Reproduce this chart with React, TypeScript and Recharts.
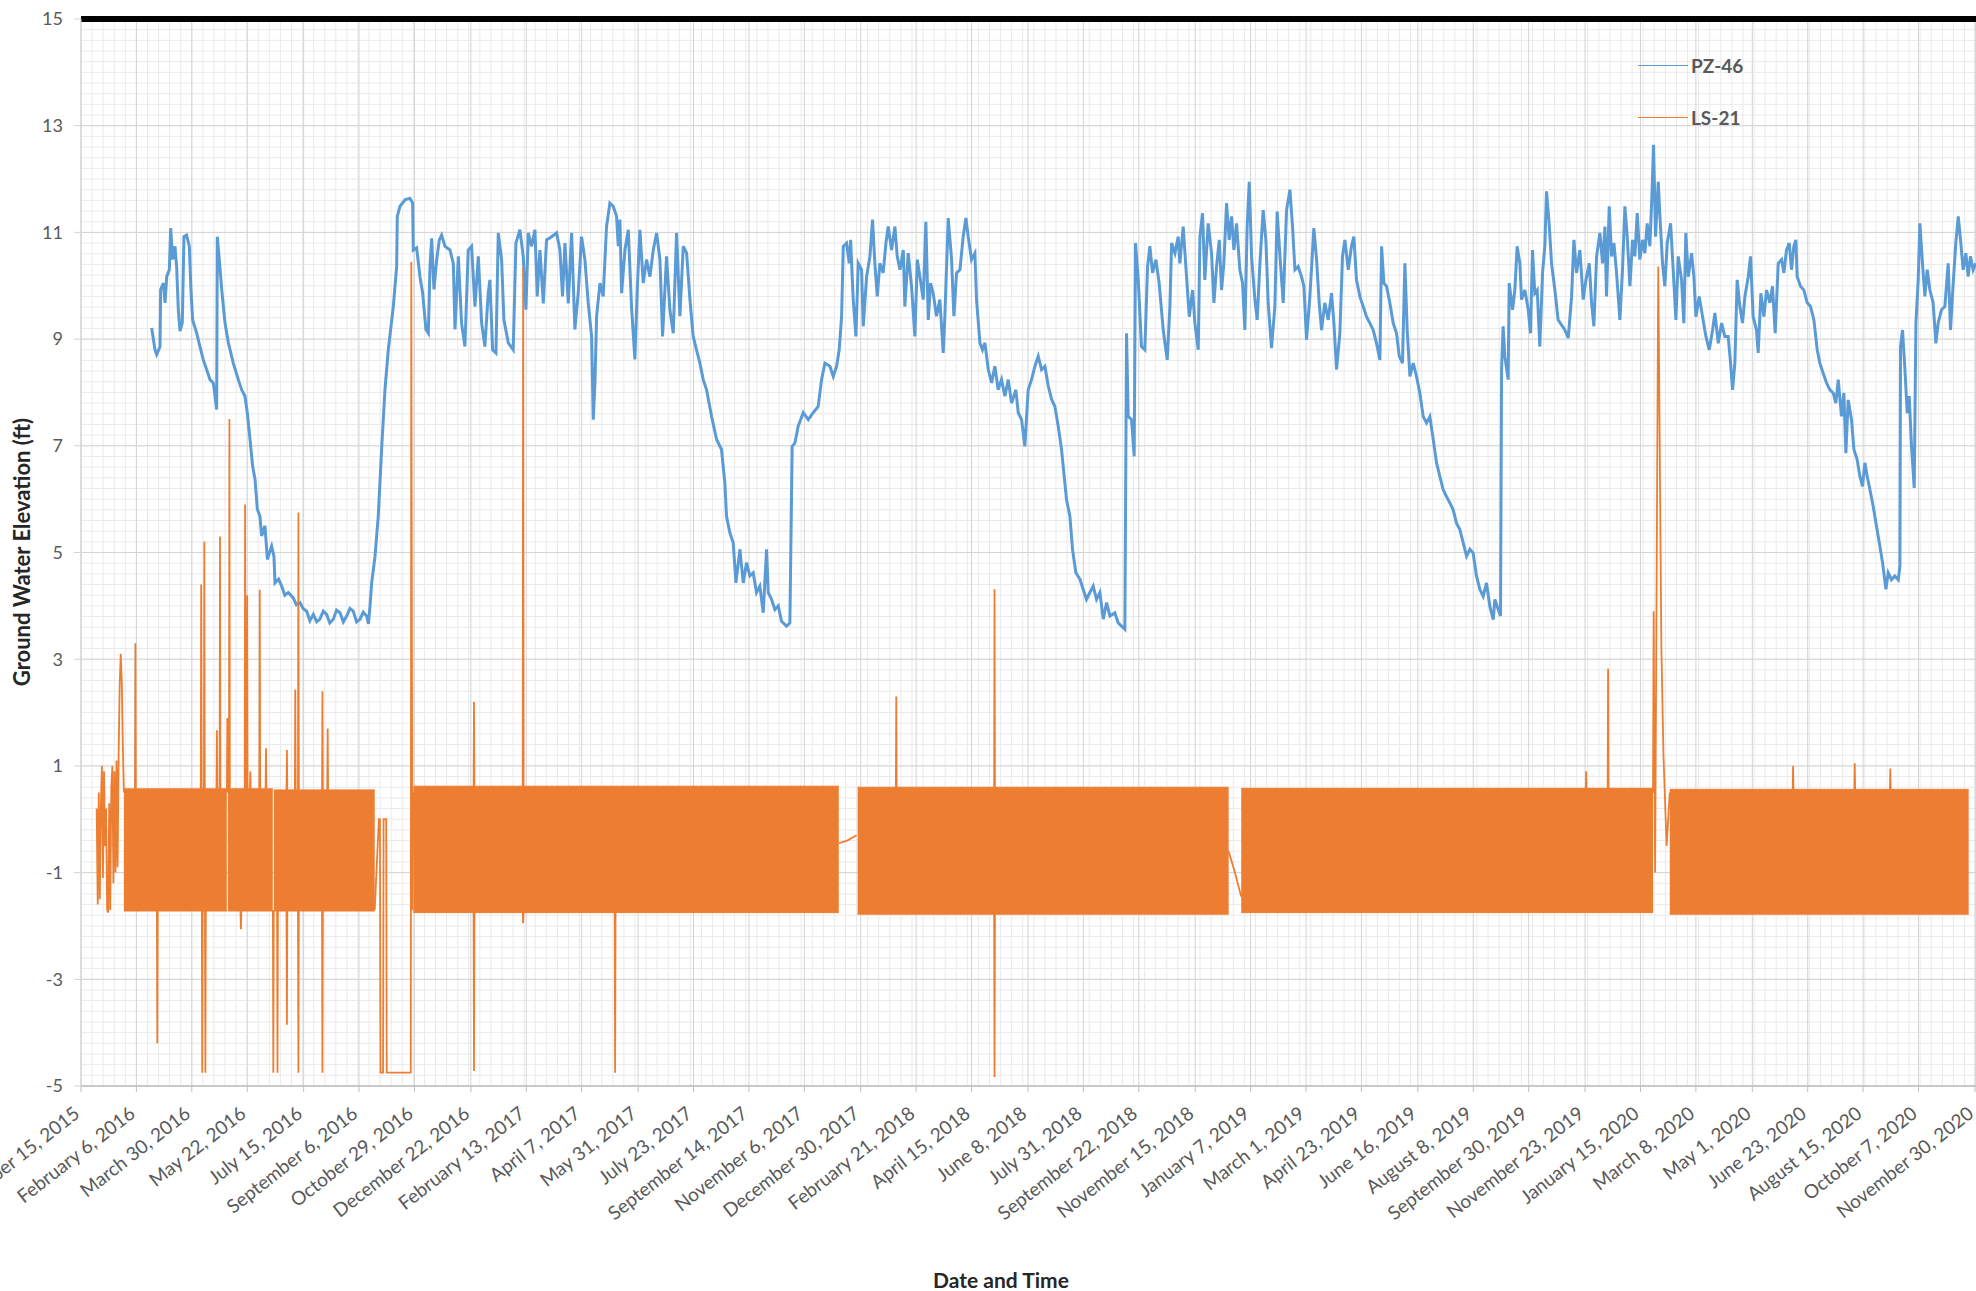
import React from 'react';
import { ComposedChart, Line, Area, XAxis, YAxis, CartesianGrid, ReferenceLine, Legend } from 'recharts';

const FONT = "Lato, 'Open Sans', 'DejaVu Sans', sans-serif";
const BLUE = '#5B9BD5';
const ORANGE = '#ED7D31';

// x values are days since December 15, 2015
const X_MAX = 1813;
const Y_MIN = -5;
const Y_MAX = 15;

const dateLabels = [
  'December 15, 2015', 'February 6, 2016', 'March 30, 2016', 'May 22, 2016', 'July 15, 2016',
  'September 6, 2016', 'October 29, 2016', 'December 22, 2016', 'February 13, 2017', 'April 7, 2017',
  'May 31, 2017', 'July 23, 2017', 'September 14, 2017', 'November 6, 2017', 'December 30, 2017',
  'February 21, 2018', 'April 15, 2018', 'June 8, 2018', 'July 31, 2018', 'September 22, 2018',
  'November 15, 2018', 'January 7, 2019', 'March 1, 2019', 'April 23, 2019', 'June 16, 2019',
  'August 8, 2019', 'September 30, 2019', 'November 23, 2019', 'January 15, 2020', 'March 8, 2020',
  'May 1, 2020', 'June 23, 2020', 'August 15, 2020', 'October 7, 2020', 'November 30, 2020',
];
const yTicks = [-5, -3, -1, 1, 3, 5, 7, 9, 11, 13, 15];

const legendNames = ['PZ-46', 'LS-21'];
const legendColors = [BLUE, ORANGE];

// PZ-46 readings [day, ft]
const pz46: [number, number][] = [
  [67.6, 9.21], [70.8, 8.8], [72.4, 8.71], [75.6, 8.86], [76.2, 9.93], [78.8, 10.05], [80.4, 9.68], [82, 10.17],
  [84.5, 10.3], [85.8, 11.08], [87.7, 10.49], [89.9, 10.74], [91.5, 10.36], [93.1, 9.55], [94.7, 9.15], [96.9, 9.3],
  [98.5, 10.92], [101, 10.95], [103.6, 10.74], [105.2, 9.93], [106.8, 9.36], [110.7, 9.11], [113.8, 8.86], [117, 8.61],
  [120.2, 8.43], [123.4, 8.24], [126.6, 8.18], [128.2, 7.93], [129.8, 7.68], [130.4, 10.92], [132.3, 10.49], [134.6, 9.93],
  [137.8, 9.3], [141, 8.93], [145.7, 8.55], [150.5, 8.24], [153.7, 8.05], [156.9, 7.93], [159.1, 7.62], [161.7, 7.12],
  [164.2, 6.62], [166.5, 6.37], [168.7, 5.81], [171.2, 5.68], [172.8, 5.31], [176, 5.5], [178.3, 4.87], [182.4, 5.12],
  [184.6, 4.93], [185.6, 4.43], [189, 4.5], [192, 4.37], [195, 4.2], [198.3, 4.25], [203.1, 4.15], [206, 4.02], [209.5, 4.06],
  [212.5, 3.95], [215.9, 3.9], [219, 3.72], [222.3, 3.84], [225.5, 3.7], [228.6, 3.75], [231.8, 3.9], [235, 3.84],
  [238, 3.68], [241.4, 3.75], [244.5, 3.92], [247.8, 3.87], [251, 3.7], [254.2, 3.81], [257.3, 3.95], [260.5, 3.9],
  [263.7, 3.7], [266.9, 3.75], [270, 3.88], [273.3, 3.81], [275, 3.66], [276.5, 4.0], [278.1, 4.43], [281.3, 4.93],
  [284.4, 5.68], [287.6, 6.93], [290.8, 8.05], [294, 8.8], [298.8, 9.61], [302, 10.36], [302.6, 11.3], [305.2, 11.49],
  [310, 11.61], [314.7, 11.64], [317.3, 11.55], [317.9, 10.67], [321.1, 10.71], [324.3, 10.17], [326.9, 9.86], [330, 9.18],
  [332.3, 9.11], [333.9, 10.36], [335.5, 10.89], [337.7, 9.93], [340.3, 10.49], [342.8, 10.86], [345, 10.95], [348.2, 10.74],
  [353, 10.67], [356.2, 10.42], [357.8, 9.18], [361, 10.55],
  [364.1, 9.3], [367.3, 8.86], [370.5, 10.67], [373.7, 10.74], [376.9, 9.61], [380.1, 10.55], [383.3, 9.3], [386.4, 8.86],
  [389.6, 9.86], [391.2, 10.11], [393.8, 8.8], [397, 8.74], [399.2, 10.99], [402.4, 10.49], [404.6, 9.36], [408.8, 8.93],
  [413.5, 8.8], [416.1, 10.8], [419.9, 11.05], [423.1, 10.55], [425.7, 9.55], [427.9, 10.99], [431.1, 10.74], [434.3, 11.05],
  [436.5, 9.8], [439.1, 10.67], [442.3, 9.67], [445.4, 10.86], [450.2, 10.92], [455, 10.99], [458.2, 10.67], [460.7, 9.8],
  [463, 10.8], [466.2, 9.67], [469.4, 10.99], [472.5, 9.18], [475.7, 9.86], [478.9, 10.92], [482.1, 10.49], [485.3, 9.67],
  [488.5, 9.05], [490.1, 7.49], [491.7, 8.18], [493.3, 9.43], [496.5, 10.05], [499.6, 9.8], [502.8, 11.11], [506, 11.55],
  [509.2, 11.49], [512.4, 11.3], [514, 10.74], [515.6, 11.24], [517.2, 9.86], [520.4, 10.67], [523.6, 11.05], [526.7, 9.61],
  [529.9, 8.62], [532.2, 9.93], [534.7, 11.05], [537.9, 10.05], [541.1, 10.49], [544.3, 10.17], [547.5, 10.67], [550.7, 10.99],
  [553.9, 10.49], [556.4, 9.05], [560.2, 10.55], [563.4, 9.55], [566.6, 9.11], [569.8, 10.99], [573, 9.43], [576.2, 10.74],
  [579.4, 10.61], [582.6, 9.74], [585.7, 9.05], [588.9, 8.8], [592.1, 8.55], [595.3, 8.24], [598.5, 8.05], [603.3, 7.55],
  [608.1, 7.12], [612.8, 6.93], [616, 6.3], [617.6, 5.68], [620.8, 5.37], [624, 5.18], [626.6, 4.43], [630.4, 5.06],
  [633.6, 4.43], [636.7, 4.81], [639.9, 4.56], [643.1, 4.62], [646.3, 4.25], [649.5, 4.37], [652.7, 3.87], [655.9, 5.06],
  [657.5, 4.25], [660.7, 4.12], [663.9, 3.93], [667.1, 4.0], [670.2, 3.71], [675, 3.62], [678.2, 3.68], [680.4, 6.99],
  [683, 7.05], [686.2, 7.37], [691, 7.62], [695.8, 7.49], [700.5, 7.62], [705.3, 7.74],
  [708.5, 8.24], [711.7, 8.55], [716.5, 8.49], [719.7, 8.3], [722.9, 8.49], [725.4, 8.8], [727.7, 9.43], [729.3, 10.74],
  [732.4, 10.8], [735, 10.42], [736.3, 10.86], [738.8, 9.74], [741.4, 9.05], [743.6, 10.42], [746.8, 10.3], [748.4, 9.24],
  [751.6, 10.17], [754.8, 10.55], [757.3, 11.24], [759.5, 10.42], [761.8, 9.8], [764.3, 10.42], [767.5, 10.24], [770.1, 10.8],
  [772.3, 11.11], [775.5, 10.67], [778.7, 11.11], [780.9, 10.55], [783.5, 10.3], [786.7, 10.67], [788.2, 9.61], [791.4, 10.61],
  [794.6, 9.99], [797.8, 9.05], [800.1, 10.49], [802.6, 10.17], [805.8, 9.74], [808.3, 11.2], [810.6, 9.36], [812.8, 10.05],
  [815.3, 9.86], [818.5, 9.43], [821.7, 9.74], [824.9, 8.74], [826.5, 9.43], [829.7, 11.27], [832.9, 10.49], [835.1, 9.43],
  [837.7, 10.24], [840.9, 10.3], [844, 10.92], [846.6, 11.27], [848.8, 10.92], [852, 10.49], [855.2, 10.61], [856.8, 9.74],
  [860, 8.93], [862.5, 8.8], [864.8, 8.93], [868, 8.43], [871.2, 8.18], [874.3, 8.49], [877.5, 8.05], [880.7, 8.24],
  [883.9, 7.93], [887.1, 8.24], [890.3, 7.8], [894.4, 8.05], [896.7, 7.62], [899.9, 7.49], [903, 6.99], [906.2, 8.05],
  [909.4, 8.24], [912.6, 8.49], [915.8, 8.68], [919, 8.43], [922.2, 8.49], [925.4, 8.12], [928.6, 7.87], [931.7, 7.74],
  [934.9, 7.37], [938.1, 6.93], [941.3, 6.3], [942.9, 5.99], [946.1, 5.68], [948.6, 5.06], [951.8, 4.62], [955.7, 4.5],
  [958.8, 4.31], [962, 4.12], [965.2, 4.25], [968.4, 4.37], [971.6, 4.12], [974.8, 4.25], [978, 3.75], [981.2, 4.06],
  [984.4, 3.81], [989.1, 3.87], [992.3, 3.68], [995.5, 3.62], [998.7, 3.56], [1000.3, 9.11], [1001.9, 7.55], [1005.1, 7.49],
  [1007.6, 6.8], [1008.9, 10.8], [1011.5, 10.11], [1014.6, 8.86], [1017.8, 8.8], [1020.4, 10.36], [1022.6, 10.74], [1025.2, 10.24],
  [1028.4, 10.49], [1031.5, 10.05],
  [1035.4, 9.17], [1039.2, 8.61], [1041.8, 9.61], [1043.4, 10.8], [1046.6, 10.61], [1049.7, 10.92], [1051.3, 10.42], [1054.5, 11.11],
  [1057.7, 10.17], [1060.3, 9.42], [1063.5, 9.92], [1065.7, 9.3], [1068.9, 8.8], [1070.5, 10.92], [1073, 11.36], [1075.2, 10.11],
  [1078.4, 11.17], [1081.6, 10.61], [1083.9, 9.68], [1086.4, 10.36], [1089, 10.86], [1091.2, 9.92], [1093.4, 10.42], [1096, 11.55],
  [1098.5, 10.86], [1100.8, 11.3], [1103, 10.67], [1105.5, 11.17], [1108.7, 10.3], [1111.3, 10.05], [1113.5, 9.17], [1115.7, 11.11],
  [1117.7, 11.95], [1119.9, 10.55], [1123.1, 9.74], [1125.3, 9.36], [1127.9, 10.42], [1131, 11.42], [1133.6, 10.86], [1135.8, 9.68],
  [1139, 8.83], [1142.2, 9.61], [1144.4, 11.39], [1146.9, 10.61], [1150.2, 9.68], [1153.4, 11.42], [1156.6, 11.8], [1159.1, 11.11],
  [1161.4, 10.3], [1164.5, 10.36], [1167.7, 10.17], [1170, 9.99], [1172.5, 8.99], [1175.7, 9.8], [1179.5, 11.08], [1182.1, 10.49],
  [1184.6, 9.68], [1186.9, 9.17], [1190, 9.68], [1193.2, 9.36], [1196.4, 9.86], [1198.7, 9.3], [1201.2, 8.43], [1204.4, 9.11],
  [1206.9, 10.55], [1209.2, 10.86], [1212.4, 10.3], [1215.5, 10.74], [1217.8, 10.92], [1220.3, 10.11], [1223.5, 9.8], [1226.7, 9.61],
  [1229.9, 9.42], [1233.1, 9.3], [1236.3, 9.17], [1239.5, 8.92], [1242.7, 8.61], [1244.3, 10.74], [1246.5, 10.05], [1249, 9.99],
  [1252.2, 9.68], [1255.4, 9.3], [1258.6, 9.11], [1261.2, 8.68], [1264.3, 8.55], [1266.6, 10.42], [1268.8, 9.17], [1271.4, 8.3],
  [1274.6, 8.55], [1277.7, 8.3], [1280.9, 7.99], [1284.1, 7.55], [1287.3, 7.43], [1290.5, 7.55], [1293.7, 7.12], [1296.9, 6.68],
  [1300, 6.43], [1303.2, 6.18], [1306.4, 6.05], [1309.6, 5.93], [1312.8, 5.8], [1316, 5.55], [1319.2, 5.43], [1322.4, 5.18],
  [1325.6, 4.93], [1328.8, 5.06], [1331.9, 4.99], [1335.1, 4.56], [1338.3, 4.31], [1341.5, 4.18], [1344.7, 4.43], [1347.9, 3.99],
  [1351.1, 3.74], [1352.7, 4.12], [1355.9, 3.93], [1358.1, 3.81], [1359.1, 8.43], [1360.6, 9.24], [1362.2, 8.68], [1365.4, 8.24],
  [1366.4, 10.05], [1369.6, 9.55], [1371.8, 9.92], [1374, 10.74], [1376.6, 10.42], [1378.2, 9.74], [1381.4, 9.92], [1384.6, 9.55],
  [1386.8, 9.11], [1388.7, 10.67], [1390.9, 9.86], [1393.2, 9.92], [1395.7, 8.86], [1398.3, 10.24], [1400.5, 10.74], [1402.1, 11.77],
  [1404.6, 11.17], [1406.9, 10.42], [1410.1, 9.92], [1413.2, 9.36],
  [1419.7, 9.17], [1422.9, 9.02], [1426.1, 9.8], [1428.3, 10.86], [1430.8, 10.24], [1434, 10.67], [1437.2, 9.74], [1439.8, 10.11],
  [1443, 10.42], [1445.2, 9.68], [1447.4, 9.24], [1450, 10.55], [1453.2, 10.99], [1455.7, 10.42], [1458, 11.11], [1459.5, 9.8],
  [1462.1, 11.49], [1464.3, 10.55], [1466.6, 10.8], [1469.1, 10.24], [1472.3, 9.36], [1474.8, 10.3], [1477.1, 11.49], [1479.3, 10.92],
  [1481.9, 9.99], [1484.4, 10.86], [1486.6, 10.55], [1488.9, 11.36], [1491.4, 10.49], [1494, 10.86], [1496.2, 10.61], [1498.4, 11.17],
  [1501, 10.74], [1502.9, 11.67], [1504.5, 12.64], [1506.4, 10.92], [1509, 11.95], [1510.6, 11.3], [1513.1, 10.42], [1515.3, 9.99],
  [1517.6, 10.8], [1520.8, 11.17], [1523.3, 10.3], [1525.9, 9.36], [1528.1, 10.55], [1531.3, 10.11], [1533.5, 9.3], [1535.4, 10.99],
  [1537.7, 10.17], [1540.9, 10.61], [1543.1, 10.17], [1545, 9.42], [1548.2, 9.8], [1551.4, 9.42], [1554.6, 9.05], [1557.8, 8.8],
  [1561, 9.17], [1563.2, 9.49], [1566.4, 8.92], [1569.6, 9.3], [1572.7, 9.05], [1575.9, 9.05], [1578.2, 8.55], [1580.1, 8.05],
  [1582.3, 8.55], [1584.5, 10.11], [1587.1, 9.61], [1589.6, 9.3], [1591.9, 9.8], [1595.1, 10.17], [1597.3, 10.55], [1599.8, 9.42],
  [1603, 9.17], [1604.6, 8.74], [1607.2, 9.86], [1610.1, 9.42], [1612.6, 9.92], [1615.8, 9.68], [1618.3, 9.99], [1620.9, 9.11],
  [1623.8, 10.42], [1627, 10.49], [1629.2, 10.24], [1631.7, 10.67], [1634.3, 10.8], [1636.5, 10.3], [1638.7, 10.74], [1640.7, 10.86],
  [1641.9, 10.17], [1645.1, 9.99], [1648.3, 9.92], [1651.5, 9.68], [1654.7, 9.61], [1657.9, 9.36], [1661.1, 8.8], [1663.6, 8.55],
  [1666.8, 8.36], [1670, 8.18], [1673.2, 8.05], [1676.4, 7.99], [1678.9, 7.8], [1681.2, 8.24], [1684.3, 7.55], [1686.6, 7.99],
  [1688.5, 6.86], [1690.7, 7.86], [1693.9, 7.49], [1696.2, 6.93], [1699.3, 6.74], [1701.9, 6.43], [1704.4, 6.24], [1706.7, 6.68],
  [1708.9, 6.43], [1711.5, 6.18], [1714.6, 5.87], [1717.8, 5.49], [1721, 5.12], [1723.6, 4.81], [1726.8, 4.31], [1729, 4.62],
  [1732.2, 4.49], [1735.4, 4.56], [1738.6, 4.49], [1740.2, 4.74], [1740.8, 8.86], [1742.7, 9.17], [1745, 8.43], [1747.2, 7.61],
  [1749.1, 7.93], [1751.3, 6.99], [1753.9, 6.21], [1755.5, 9.3], [1757.7, 10.11], [1759.3, 11.17], [1761.8, 10.42], [1764.1, 9.8],
  [1766.3, 10.3], [1768.9, 9.92], [1772, 9.68], [1774.6, 8.92], [1776.8, 9.3], [1780, 9.55], [1783.2, 9.61], [1786.4, 10.42],
  [1788.6, 9.17], [1791.2, 10.05], [1793.7, 10.8], [1796, 11.3], [1798.2, 10.86], [1800.7, 10.3], [1803.3, 10.61], [1805.5, 10.17],
  [1807.7, 10.55], [1810.3, 10.3], [1812.8, 10.42],
];

// LS-21: dense daily cycling, kept as its envelope per logging run [startDay, endDay, low, high]
const ls21Band: [number, number, number, number][] = [
  [41, 139.5, -1.72, 0.57],
  [140.5, 183.5, -1.72, 0.57],
  [184.5, 281, -1.72, 0.55],
  [318, 725, -1.75, 0.62],
  [743, 1098, -1.78, 0.6],
  [1110, 1504, -1.75, 0.58],
  [1520, 1806, -1.78, 0.56],
];

// LS-21 stretches outside the dense runs [day, ft]
const ls21Paths: [number, number][][] = [
  [[15, 0.2], [16, -1.6], [17, 0.5], [18, -1.5], [19, 0.3], [20, 1.0], [21, -1.1], [22, 0.9], [23, -0.5], [24, 0.2],
    [25, -1.7], [26, -1.75], [27, 0.3], [28, -1.7], [29, 0.6], [30, 1.0], [31, -1.2], [32, 0.9], [33, -1.0], [34, 1.1],
    [35, -0.9], [36, 1.2], [37, 2.5], [38, 3.1], [39, 2.6], [40, 1.4], [41, 0.5]],
  [[281, -1.7], [285, 0.0], [286, 0.0], [286.5, -4.75], [289, -4.75], [289.5, 0.0], [292, 0.0], [292.5, -4.75],
    [315.5, -4.75], [316, 10.45], [317, -1.7], [318, 0.5]],
  [[725, -0.45], [733, -0.4], [742, -0.3]],
  [[1098, -0.6], [1104, -1.0], [1110, -1.45]],
  [[1504, 0.5], [1504.6, 3.9], [1506, -1.0], [1509, 10.36], [1512, 3.2], [1514, 1.2], [1517, -0.5], [1520, 0.5]],
];

const ls21SpikesUp: [number, number][] = [
  [52, 3.3], [115, 4.4], [118, 5.2], [130, 1.67], [133, 5.3], [140, 1.9], [142, 7.5], [157, 5.9], [159, 4.2],
  [162, 0.9], [171, 4.3], [177, 1.33], [197, 1.3], [205, 2.43], [208, 5.75], [231, 2.4], [236, 1.7], [376, 2.2],
  [423, 10.36], [780, 2.3], [874, 4.31], [1440, 0.9], [1461, 2.82], [1638, 1.0], [1697, 1.05], [1731, 0.95],
];
const ls21SpikesDown: [number, number][] = [
  [73, -4.2], [116, -4.75], [119, -4.75], [153, -2.06], [184, -4.75], [188, -4.75], [197, -3.85], [208, -4.75],
  [231, -4.75], [376, -4.72], [423, -1.95], [511, -4.75], [874, -4.83],
];

const DAY_MS = 86400000;
const tickDays = dateLabels.map((l) => Math.round((Date.parse(l) - Date.parse(dateLabels[0])) / DAY_MS));

const minorXValues: number[] = [];
for (let d = 0; d <= X_MAX; d += 53 / 5) minorXValues.push(d);
const minorYValues: number[] = [];
for (let i = 0; i <= 100; i++) minorYValues.push(Y_MIN + i * 0.2);

const pzData = pz46.map(([day, v]) => ({ day, v }));

const lsLineData: { day: number; v: number | null }[] = [];
ls21Paths.forEach((path) => {
  path.forEach(([day, v]) => lsLineData.push({ day, v }));
  lsLineData.push({ day: path[path.length - 1][0] + 0.01, v: null });
});
ls21SpikesUp.forEach(([day, peak]) => {
  lsLineData.push({ day: day - 0.4, v: 0.5 }, { day, v: peak }, { day: day + 0.4, v: 0.5 }, { day: day + 0.41, v: null });
});
ls21SpikesDown.forEach(([day, low]) => {
  lsLineData.push({ day: day - 0.4, v: -1.7 }, { day, v: low }, { day: day + 0.4, v: -1.7 }, { day: day + 0.41, v: null });
});

function scaleOr(axis: any, fallback: (v: number) => number) {
  if (axis && typeof axis.scale === 'function') return (v: number) => axis.scale(v);
  return fallback;
}

function minorHorizontal({ yAxis, offset }: any) {
  const sy = scaleOr(yAxis, (v) => offset.top + ((Y_MAX - v) / (Y_MAX - Y_MIN)) * offset.height);
  return minorYValues.map(sy);
}

function minorVertical({ xAxis, offset }: any) {
  const sx = scaleOr(xAxis, (v) => offset.left + (v / X_MAX) * offset.width);
  return minorXValues.map(sx);
}

function DateTick(props: any) {
  const { x, y, payload } = props;
  const idx = tickDays.indexOf(Math.round(payload.value));
  return (
    <g transform={`translate(${x},${y})`}>
      <text x={0} y={0} transform="translate(0,22) rotate(-38)" textAnchor="end" fill="#595959" fontSize={19} fontFamily={FONT}>
        {idx >= 0 ? dateLabels[idx] : ''}
      </text>
    </g>
  );
}

function LegendBox() {
  return (
    <div style={{ display: 'flex', flexDirection: 'column' }}>
      {legendNames.map((name, i) => (
        <div key={name} style={{ display: 'flex', alignItems: 'center', height: 51.5 }}>
          <span style={{ width: 50, height: 0, borderTop: `1.5px solid ${legendColors[i]}` }} />
          <span style={{ marginLeft: 3, fontFamily: FONT, fontWeight: 700, fontSize: 19, color: '#595959' }}>{name}</span>
        </div>
      ))}
    </div>
  );
}

export default function App() {
  return (
    <div style={{ position: 'absolute', left: 0, top: 0, width: 1976, height: 1291, background: '#fff', overflow: 'hidden' }}>
      <ComposedChart width={1976} height={1291} margin={{ top: 19, right: 0, bottom: 0, left: 0 }}>
        <CartesianGrid stroke="#eaeaea" strokeWidth={1} horizontalCoordinatesGenerator={minorHorizontal} verticalCoordinatesGenerator={minorVertical} />
        <CartesianGrid stroke="#d4d4d4" strokeWidth={1} />
        <XAxis
          dataKey="day"
          type="number"
          domain={[0, X_MAX]}
          ticks={tickDays}
          interval={0}
          allowDataOverflow
          height={205}
          tick={<DateTick />}
          tickSize={6}
          tickLine={{ stroke: '#bfbfbf' }}
          axisLine={{ stroke: '#bfbfbf', strokeWidth: 1.5 }}
        />
        <YAxis
          type="number"
          domain={[Y_MIN, Y_MAX]}
          ticks={yTicks}
          interval={0}
          allowDataOverflow
          width={81}
          tickSize={7}
          tickMargin={11}
          tick={{ fill: '#595959', fontSize: 18, fontFamily: FONT }}
          tickLine={{ stroke: '#d4d4d4' }}
          axisLine={{ stroke: '#d4d4d4' }}
        />
        <Line data={pzData} dataKey="v" type="linear" stroke={BLUE} strokeWidth={3} dot={false} activeDot={false} isAnimationActive={false} />
        {ls21Band.map(([s, e, lo, hi], i) => (
          <Area
            key={`band-${i}`}
            data={[{ day: s, range: [lo, hi] }, { day: e, range: [lo, hi] }]}
            dataKey="range"
            type="linear"
            stroke={ORANGE}
            strokeWidth={1}
            fill={ORANGE}
            fillOpacity={1}
            dot={false}
            activeDot={false}
            isAnimationActive={false}
          />
        ))}
        <Line data={lsLineData} dataKey="v" type="linear" stroke={ORANGE} strokeWidth={1.8} dot={false} activeDot={false} connectNulls={false} isAnimationActive={false} />
        <ReferenceLine y={Y_MAX} stroke="#000" strokeWidth={6} />
        <Legend layout="vertical" align="center" verticalAlign="middle" content={<LegendBox />} wrapperStyle={{ left: 1638, top: 40, width: 160 }} />
      </ComposedChart>
      <div
        style={{
          position: 'absolute', left: 21, top: 552, transform: 'translate(-50%, -50%) rotate(-90deg)', whiteSpace: 'nowrap',
          fontFamily: FONT, fontWeight: 700, fontSize: 22, color: '#262626',
        }}
      >
        Ground Water Elevation (ft)
      </div>
      <div
        style={{
          position: 'absolute', left: 1001, top: 1279, transform: 'translate(-50%, -50%)', whiteSpace: 'nowrap',
          fontFamily: FONT, fontWeight: 700, fontSize: 21, color: '#262626',
        }}
      >
        Date and Time
      </div>
    </div>
  );
}
